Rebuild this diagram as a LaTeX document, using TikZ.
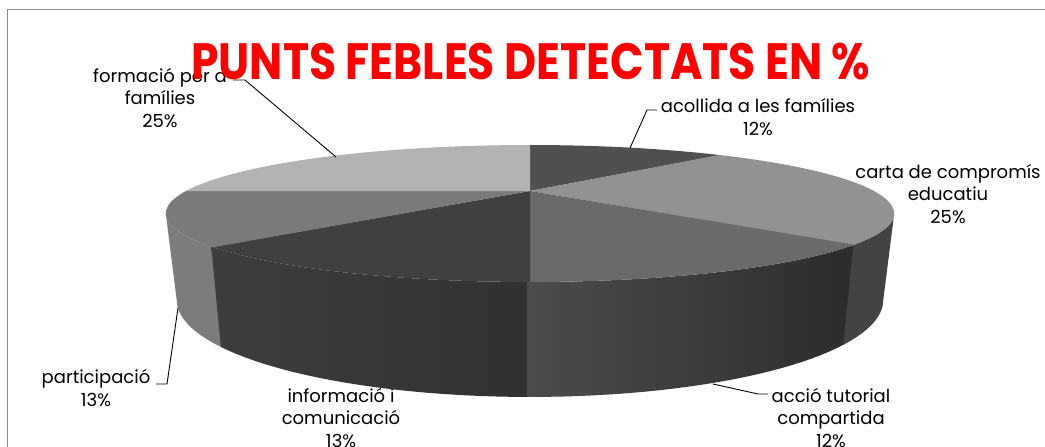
\documentclass[tikz,border=0pt]{standalone}
\usepackage{fontspec}
\setmainfont{Poppins}
\newfontfamily\titlefont{Poppins}
\definecolor{cForm}{HTML}{B3B3B3}
\definecolor{cPart}{HTML}{7A7A7A}
\definecolor{cPartS}{HTML}{7C7C7C}
\definecolor{cInfo}{HTML}{404040}
\definecolor{cInfoSL}{HTML}{3D3D3D}
\definecolor{cInfoSR}{HTML}{313131}
\definecolor{cAcc}{HTML}{6A6A6A}
\definecolor{cAccSL}{HTML}{4C4C4C}
\definecolor{cAccSR}{HTML}{2C2C2C}
\definecolor{cCarta}{HTML}{929292}
\definecolor{cCartaS}{HTML}{434343}
\definecolor{cAcol}{HTML}{505050}
\definecolor{cFrame}{HTML}{8C8C8C}
\tikzset{
  lbl/.style={align=center, inner sep=0pt, font=\fontsize{18}{22.5}\selectfont, text=black},
  leader/.style={draw=black, line width=0.9pt},
}
\begin{document}
\begin{tikzpicture}[x=1pt,y=-1pt,
  declare function={
    tx(\t)=530+344*sin(\t)/(1+0.3285*cos(\t));
    ty(\t)=191-61.1*cos(\t)/(1+0.3285*cos(\t));
    bx(\t)=530+0.97*344*sin(\t)/(1+0.3285*cos(\t));
    by(\t)=191-61.1*cos(\t)/(1+0.3285*cos(\t))+77.2/(1+0.3285*cos(\t));
  }]
\useasboundingbox (0,0) rectangle (1045,447);
\fill[white] (0,0) rectangle (1045,447);
% frame
\draw[cFrame, line width=1pt] (7,447) -- (7,9) -- (1045,9);

% label below pie (drawn first)
\node[lbl] (lInfo) at (341,418) {informació i\\comunicació\\13\%};

% sides
\fill[cPartS] plot[domain=225:250.8, samples=20, variable=\t] ({tx(\t)},{ty(\t)})
   -- plot[domain=250.8:225, samples=20, variable=\t] ({bx(\t)},{by(\t)}) -- cycle;
\shade[left color=cInfoSL, right color=cInfoSR] plot[domain=180:225.5, samples=25, variable=\t] ({tx(\t)},{ty(\t)})
   -- plot[domain=225.5:180, samples=25, variable=\t] ({bx(\t)},{by(\t)}) -- cycle;
\shade[left color=cAccSL, right color=cAccSR] plot[domain=133:180.3, samples=25, variable=\t] ({tx(\t)},{ty(\t)})
   -- plot[domain=180.3:133, samples=25, variable=\t] ({bx(\t)},{by(\t)}) -- cycle;
\fill[cCartaS] plot[domain=109.2:133.3, samples=20, variable=\t] ({tx(\t)},{ty(\t)})
   -- plot[domain=133.3:109.2, samples=20, variable=\t] ({bx(\t)},{by(\t)}) -- cycle;

% top faces
\coordinate (apex) at (530,191);
\fill[cAcol] (apex) -- plot[domain=0:43.3, samples=25, variable=\t] ({tx(\t)},{ty(\t)}) -- cycle;
\fill[cCarta] (apex) -- plot[domain=43:133.3, samples=40, variable=\t] ({tx(\t)},{ty(\t)}) -- cycle;
\fill[cAcc] (apex) -- plot[domain=133:180.3, samples=25, variable=\t] ({tx(\t)},{ty(\t)}) -- cycle;
\fill[cInfo] (apex) -- plot[domain=180:225.3, samples=25, variable=\t] ({tx(\t)},{ty(\t)}) -- cycle;
\fill[cPart] (apex) -- plot[domain=225:270.3, samples=25, variable=\t] ({tx(\t)},{ty(\t)}) -- cycle;
\fill[cForm] (apex) -- plot[domain=270:360, samples=40, variable=\t] ({tx(\t)},{ty(\t)}) -- cycle;

% labels
\node[lbl] (lForm) at (160,98) {formació per a\\famílies\\25\%};
\node[lbl] (lAcol) at (758,117) {acollida a les famílies\\12\%};
\node[lbl] (lCarta) at (948,194) {carta de compromís\\educatiu\\25\%};
\node[lbl] (lPart) at (96,388) {participació\\13\%};
\node[lbl] (lAcc) at (831,418) {acció tutorial\\compartida\\12\%};

% leader lines
\coordinate (fA) at (233,80); \coordinate (fB) at (245,80); \coordinate (fC) at (336,157);
\draw[leader] (fA) -- (fB) -- (fC);
\coordinate (aA) at (657,110); \coordinate (aB) at (647,110); \coordinate (aC) at (630,148);
\draw[leader] (aA) -- (aB) -- (aC);
\coordinate (pA) at (156,384); \coordinate (pB) at (167,384); \coordinate (pC) at (178,308);
\draw[leader] (pA) -- (pB) -- (pC);
\coordinate (cA) at (768,394); \coordinate (cB) at (758,394); \coordinate (cC) at (713,384);
\draw[leader] (cA) -- (cB) -- (cC);

% title
\node[anchor=base west, inner sep=0pt, text=red] (title) at (191,79)
  {\resizebox{679pt}{36.5pt}{\titlefont\bfseries PUNTS FEBLES DETECTATS EN \%}};
\end{tikzpicture}
\end{document}
